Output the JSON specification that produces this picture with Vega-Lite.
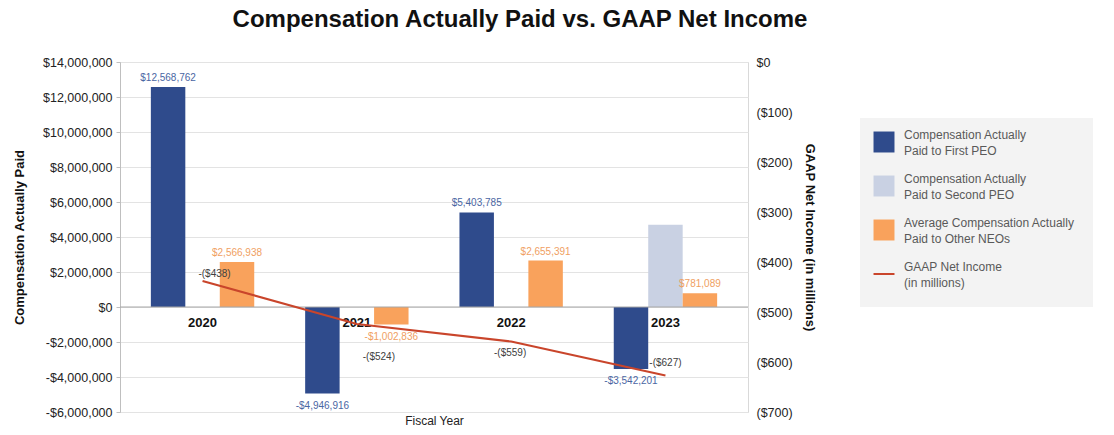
{
  "$schema": "https://vega.github.io/schema/vega-lite/v6.json",
  "width": 628,
  "height": 350,
  "autosize": {"type": "none"},
  "padding": {"left": 120, "top": 62, "right": 366, "bottom": 23},
  "background": "white",
  "config": {
    "font": "Liberation Sans",
    "view": {"stroke": "#d9d9d9"}
  },
  "title": {
    "text": "Compensation Actually Paid vs. GAAP Net Income",
    "fontSize": 24,
    "fontWeight": "bold",
    "color": "#111111",
    "anchor": "middle",
    "dx": 86,
    "offset": 24
  },
  "datasets": {
    "bars": [
      {"year": "2020", "series": "Compensation Actually Paid to First PEO", "value": 12568762},
      {"year": "2020", "series": "Average Compensation Actually Paid to Other NEOs", "value": 2566938},
      {"year": "2021", "series": "Compensation Actually Paid to First PEO", "value": -4946916},
      {"year": "2021", "series": "Average Compensation Actually Paid to Other NEOs", "value": -1002836},
      {"year": "2022", "series": "Compensation Actually Paid to First PEO", "value": 5403785},
      {"year": "2022", "series": "Average Compensation Actually Paid to Other NEOs", "value": 2655391},
      {"year": "2023", "series": "Compensation Actually Paid to First PEO", "value": -3542201},
      {"year": "2023", "series": "Compensation Actually Paid to Second PEO", "value": 4700000},
      {"year": "2023", "series": "Average Compensation Actually Paid to Other NEOs", "value": 781089}
    ],
    "income": [
      {"year": "2020", "income": -438},
      {"year": "2021", "income": -524},
      {"year": "2022", "income": -559},
      {"year": "2023", "income": -627}
    ]
  },
  "layer": [
    {
      "layer": [
        {
          "data": {"name": "bars"},
          "mark": {"type": "bar"},
          "encoding": {
            "x": {
              "field": "year",
              "type": "nominal",
              "scale": {"paddingInner": 0.33},
              "axis": {
                "labels": false,
                "ticks": false,
                "domain": false,
                "title": "Fiscal Year",
                "titleFontSize": 12,
                "titleFontWeight": "normal",
                "titleColor": "#222222",
                "titlePadding": 3
              }
            },
            "xOffset": {
              "field": "series",
              "type": "nominal",
              "scale": {
                "domain": [
                  "Compensation Actually Paid to First PEO",
                  "Compensation Actually Paid to Second PEO",
                  "Average Compensation Actually Paid to Other NEOs"
                ],
                "paddingInner": 0,
                "paddingOuter": 0
              }
            },
            "y": {
              "field": "value",
              "type": "quantitative",
              "scale": {"domain": [-6000000, 14000000], "nice": false, "zero": false},
              "axis": {
                "orient": "left",
                "values": [-6000000, -4000000, -2000000, 0, 2000000, 4000000, 6000000, 8000000, 10000000, 12000000, 14000000],
                "tickCount": 11,
                "labelExpr": "(datum.value < 0 ? '-$' : '$') + format(abs(datum.value), ',')",
                "labelOverlap": false,
                "labelFontSize": 12.5,
                "labelColor": "#222222",
                "labelPadding": 4,
                "tickSize": 4,
                "tickColor": "#bfbfbf",
                "domainColor": "#bfbfbf",
                "gridColor": "#e3e3e3",
                "grid": true,
                "title": "Compensation Actually Paid",
                "titleFontSize": 13,
                "titleFontWeight": "bold",
                "titleColor": "#111111",
                "titlePadding": 16
              }
            },
            "color": {
              "field": "series",
              "type": "nominal",
              "scale": {
                "domain": [
                  "Compensation Actually Paid to First PEO",
                  "Compensation Actually Paid to Second PEO",
                  "Average Compensation Actually Paid to Other NEOs",
                  "GAAP Net Income (in millions)"
                ],
                "range": ["#2f4b8c", "#c9d1e3", "#f9a25c", "#c9452b"]
              },
              "legend": {
                "title": null,
                "orient": "none",
                "legendX": 740,
                "legendY": 56,
                "padding": 18,
                "fillColor": "#f3f3f3",
                "symbolSize": 440,
                "symbolType": "square",
                "symbolStrokeWidth": 0,
                "labelFontSize": 12,
                "labelColor": "#595959",
                "labelOffset": 14,
                "labelLimit": 300,
                "labelBaseline": "top",
                "rowPadding": 16,
                "labelExpr": "datum.label == 'Compensation Actually Paid to First PEO' ? ['Compensation Actually', 'Paid to First PEO'] : datum.label == 'Compensation Actually Paid to Second PEO' ? ['Compensation Actually', 'Paid to Second PEO'] : datum.label == 'Average Compensation Actually Paid to Other NEOs' ? ['Average Compensation Actually', 'Paid to Other NEOs'] : ['GAAP Net Income', '(in millions)']",
                "encode": {
                  "symbols": {
                    "update": {
                      "shape": {"signal": "datum.value == 'GAAP Net Income (in millions)' ? 'stroke' : 'square'"},
                      "stroke": {"signal": "datum.value == 'GAAP Net Income (in millions)' ? '#c9452b' : 'transparent'"},
                      "strokeWidth": {"signal": "datum.value == 'GAAP Net Income (in millions)' ? 2 : 0"}
                    }
                  },
                  "labels": {
                    "update": {
                      "lineHeight": {"value": 16},
                      "dy": {"value": -12}
                    }
                  }
                }
              }
            }
          }
        },
        {
          "data": {"name": "bars"},
          "transform": [
            {"filter": "datum.value > 0 && datum.series != 'Compensation Actually Paid to Second PEO'"},
            {"calculate": "'$' + format(abs(datum.value), ',')", "as": "label"}
          ],
          "mark": {"type": "text", "baseline": "bottom", "dy": -4, "fontSize": 10},
          "encoding": {
            "x": {"field": "year", "type": "nominal"},
            "xOffset": {"field": "series", "type": "nominal"},
            "y": {"field": "value", "type": "quantitative"},
            "text": {"field": "label"},
            "color": {
              "condition": {"test": "datum.series == 'Average Compensation Actually Paid to Other NEOs'", "value": "#f0a062"},
              "value": "#4a66a3"
            }
          }
        },
        {
          "data": {"name": "bars"},
          "transform": [
            {"filter": "datum.value < 0"},
            {"calculate": "'-$' + format(abs(datum.value), ',')", "as": "label"}
          ],
          "mark": {"type": "text", "baseline": "top", "dy": 7, "fontSize": 10},
          "encoding": {
            "x": {"field": "year", "type": "nominal"},
            "xOffset": {"field": "series", "type": "nominal"},
            "y": {"field": "value", "type": "quantitative"},
            "text": {"field": "label"},
            "color": {
              "condition": {"test": "datum.series == 'Average Compensation Actually Paid to Other NEOs'", "value": "#f0a062"},
              "value": "#4a66a3"
            }
          }
        },
        {
          "data": {"values": [{"zero": 0}]},
          "mark": {"type": "rule", "color": "#a6a6a6", "strokeWidth": 1},
          "encoding": {"y": {"field": "zero", "type": "quantitative"}}
        },
        {
          "data": {"name": "income"},
          "mark": {"type": "text", "baseline": "top", "dy": 10, "fontSize": 13, "fontWeight": "bold", "color": "#111111"},
          "encoding": {
            "x": {"field": "year", "type": "nominal"},
            "y": {"datum": 0, "type": "quantitative"},
            "text": {"field": "year"}
          }
        }
      ]
    },
    {
      "data": {"name": "income"},
      "transform": [
        {"calculate": "'-($' + abs(datum.income) + ')'", "as": "label"}
      ],
      "encoding": {
        "x": {"field": "year", "type": "nominal"}
      },
      "layer": [
        {
          "mark": {"type": "line", "strokeWidth": 2},
          "encoding": {
            "y": {
              "field": "income",
              "type": "quantitative",
              "scale": {"domain": [-700, 0], "nice": false, "zero": false},
              "axis": {
                "orient": "right",
                "values": [-700, -600, -500, -400, -300, -200, -100, 0],
                "tickCount": 8,
                "labelExpr": "datum.value == 0 ? '$0' : '($' + format(abs(datum.value), ',') + ')'",
                "labelOverlap": false,
                "labelFontSize": 12.5,
                "labelColor": "#222222",
                "labelPadding": 8,
                "ticks": false,
                "domain": false,
                "grid": false,
                "title": "GAAP Net Income (in millions)",
                "titleFontSize": 13,
                "titleFontWeight": "bold",
                "titleColor": "#111111",
                "titlePadding": 10
              }
            },
            "color": {"datum": "GAAP Net Income (in millions)", "type": "nominal"}
          }
        },
        {
          "transform": [{"filter": "datum.year == '2020'"}],
          "mark": {"type": "text", "fontSize": 10, "color": "#404040", "dx": 12, "dy": -7},
          "encoding": {"y": {"field": "income", "type": "quantitative"}, "text": {"field": "label"}}
        },
        {
          "transform": [{"filter": "datum.year == '2021'"}],
          "mark": {"type": "text", "fontSize": 10, "color": "#404040", "dx": 22, "dy": 33},
          "encoding": {"y": {"field": "income", "type": "quantitative"}, "text": {"field": "label"}}
        },
        {
          "transform": [{"filter": "datum.year == '2022'"}],
          "mark": {"type": "text", "fontSize": 10, "color": "#404040", "dx": -1, "dy": 11},
          "encoding": {"y": {"field": "income", "type": "quantitative"}, "text": {"field": "label"}}
        },
        {
          "transform": [{"filter": "datum.year == '2023'"}],
          "mark": {"type": "text", "fontSize": 10, "color": "#404040", "dx": 0, "dy": -13},
          "encoding": {"y": {"field": "income", "type": "quantitative"}, "text": {"field": "label"}}
        }
      ]
    }
  ],
  "resolve": {"scale": {"y": "independent"}}
}
